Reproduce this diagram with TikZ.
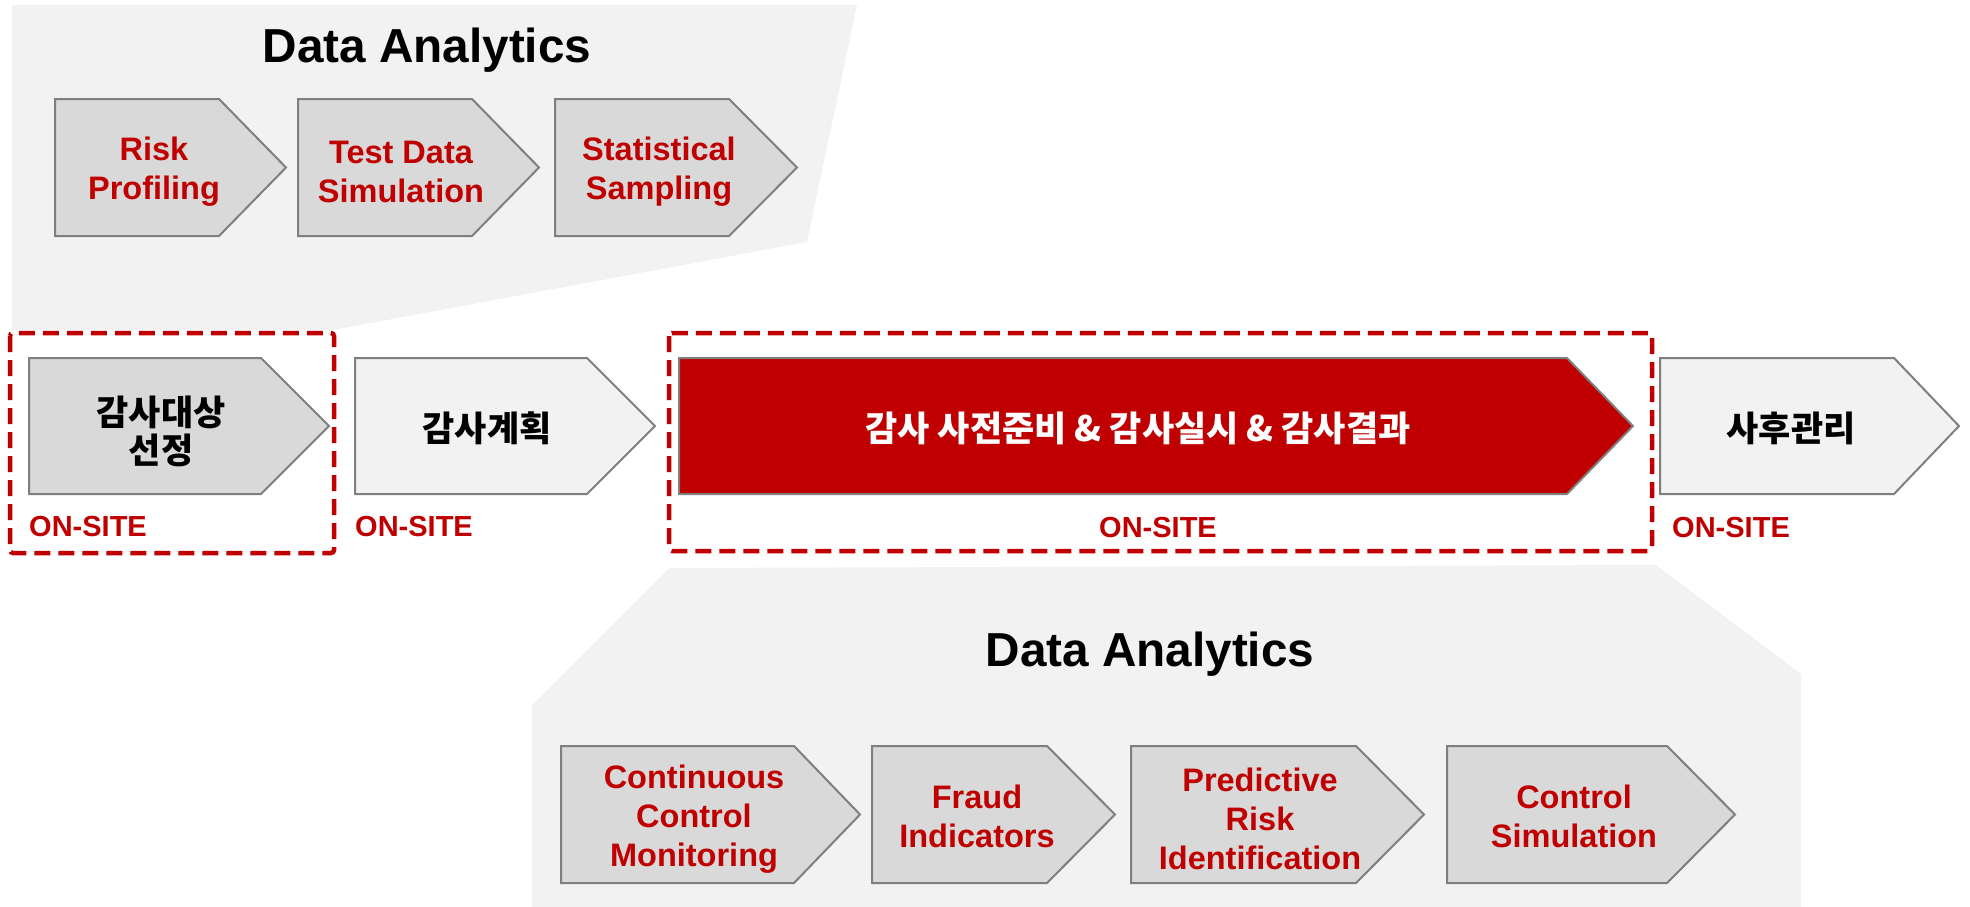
\documentclass[tikz,border=0pt]{standalone}
\usepackage{fontspec}
\setmainfont{Liberation Sans}
\newfontfamily\krfont{Noto Sans CJK KR}
\definecolor{dred}{HTML}{C00000}
\definecolor{boxgray}{HTML}{D9D9D9}
\definecolor{lightgray}{HTML}{F2F2F2}
\definecolor{edgegray}{HTML}{7F7F7F}
\newcommand\chevshape[6]{% x1 y1 x2 y2 tip style
  \path[#6] (#1,#2) -- ({#3-#5},#2) -- (#3,{(#2+#4)/2}) -- ({#3-#5},#4) -- (#1,#4) -- cycle;}
\begin{document}
\begin{tikzpicture}[x=1pt,y=-1pt,
  panel/.style={fill=lightgray,draw=none},
  dachev/.style={fill=boxgray,draw=edgegray,line width=2pt,line join=miter},
  lightchev/.style={fill=lightgray,draw=edgegray,line width=2pt},
  redchev/.style={fill=dred,draw=edgegray,line width=2pt},
  datext/.style={text=dred,align=center,font=\bfseries\fontsize{32.5}{39}\selectfont},
  krtext/.style={text=black,align=center,font=\krfont\bfseries\fontsize{35}{38}\selectfont},
  krwhite/.style={krtext,text=white},
  onsite/.style={text=dred,font=\bfseries\fontsize{29}{30}\selectfont,inner sep=0pt},
  title/.style={text=black,font=\bfseries\fontsize{47.7}{50}\selectfont,inner sep=0pt,anchor=base},
  redframe/.style={draw=dred,line width=4.5pt,dash pattern=on 16pt off 8pt,rounded corners=3pt}]
\useasboundingbox (0,0) rectangle (1970,907);
% background panels
\path[panel] (12,5) -- (857,5) -- (807,242) -- (333,330) -- (12,330) -- cycle;
\path[panel] (669,568) -- (1656,565) -- (1801,674) -- (1801,907) -- (532,907) -- (532,705) -- cycle;
% titles
\node[title] (t1) at (427,63) {Data Analytics};
\node[title] (t2) at (1150,666) {Data Analytics};
% top chevrons
\chevshape{55}{99}{286}{236}{67}{dachev}
\chevshape{298}{99}{539}{236}{67}{dachev}
\chevshape{555}{99}{797}{236}{68}{dachev}
\node[datext] (rp) at (154,172) {Risk\\Profiling};
\node[datext] (td) at (401,172) {Test Data\\Simulation};
\node[datext] (ss) at (659,172) {Statistical\\Sampling};
% middle chevrons
\chevshape{29}{358}{329}{494}{68}{dachev}
\chevshape{355}{358}{655}{494}{68}{lightchev}
\chevshape{679}{358}{1633}{494}{66}{redchev}
\chevshape{1660}{358}{1959}{494}{65}{lightchev}
\node[krtext] (sel) at (161,431) {감사대상\\선정};
\node[krtext] (plan) at (487,428) {감사계획};
\node[krwhite] (exec) at (1138,428) {감사 사전준비 \& 감사실시 \& 감사결과};
\node[krtext] (post) at (1791,428) {사후관리};
% on-site labels
\node[onsite,anchor=west] (o1) at (29,527) {ON-SITE};
\node[onsite,anchor=west] (o2) at (355,527) {ON-SITE};
\node[onsite] (o3) at (1158,528) {ON-SITE};
\node[onsite,anchor=west] (o4) at (1672,528) {ON-SITE};
% dashed frames
\draw[redframe] (10,333) rectangle (334,553);
\draw[redframe] (669,333) rectangle (1652,551);
% bottom chevrons
\chevshape{561}{746}{860}{883}{66}{dachev}
\chevshape{872}{746}{1115}{883}{68}{dachev}
\chevshape{1131}{746}{1424}{883}{68}{dachev}
\chevshape{1447}{746}{1735}{883}{68}{dachev}
\node[datext] (ccm) at (694,819) {Continuous\\Control\\Monitoring};
\node[datext] (fi) at (977,816) {Fraud\\Indicators};
\node[datext] (pri) at (1260,819) {Predictive\\Risk\\Identification};
\node[datext] (cs) at (1574,816) {Control\\Simulation};
\end{tikzpicture}
\end{document}
